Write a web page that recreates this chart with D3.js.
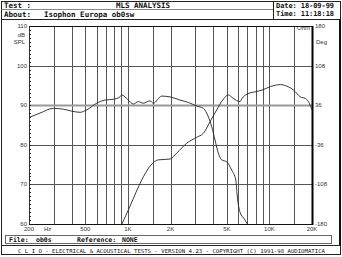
<!DOCTYPE html>
<html>
<head>
<meta charset="utf-8">
<script src="https://cdn.jsdelivr.net/npm/d3@7"></script>
<style>
  body { margin: 0; background: #fff; }
  svg { display: block; }
  .mono { font-family: "DejaVu Sans Mono", monospace; font-weight: bold; fill: #111; }
  .tick-lab { font-family: "Liberation Sans", sans-serif; font-size: 6px; fill: #333; }
</style>
</head>
<body>
<div id="chart"></div>
<script>
// woofer (low pass) response, Hz / dB SPL
var freqA = [200, 239, 297, 349, 401, 459, 511, 602, 689, 789, 879, 904, 1000, 1092, 1184, 1284, 1432, 1512, 1733, 1985, 2334, 2672, 3062, 3412, 3700, 3910, 4126, 4355, 4600, 4992, 5414, 5790, 5900, 6068, 6226, 6576, 7000];
var dbA = [86.9, 88.0, 89.2, 89.0, 88.5, 88.2, 88.8, 90.5, 91.3, 91.5, 92.1, 92.6, 91.4, 90.3, 90.9, 90.5, 91.1, 90.5, 92.3, 92.1, 91.3, 90.7, 89.8, 89.2, 87.1, 84.6, 81.2, 77.9, 76.2, 75.7, 73.6, 71.1, 67.8, 64.3, 62.8, 61.5, 60.0];
// tweeter (high pass) response
var freqB = [908, 1035, 1252, 1432, 1640, 1985, 2212, 2604, 3062, 3412, 3802, 4240, 4722, 5124, 5560, 6196, 6400, 6944, 7944, 8865, 10150, 11940, 13310, 14850, 16530, 17940, 19140, 20000];
var dbB = [60.0, 64.5, 71.1, 74.6, 76.2, 76.4, 77.9, 80.4, 81.9, 82.9, 85.8, 88.8, 91.5, 92.6, 91.7, 90.9, 91.7, 92.8, 93.4, 93.8, 94.7, 95.2, 94.8, 93.8, 92.1, 91.7, 90.5, 88.8];

var dbTicks = [60, 70, 80, 90, 100, 110];
var degTicks = [-180, -108, -36, 36, 108, 180];
var gridFreqs = [300, 400, 500, 600, 700, 800, 900, 1000, 1500, 2000, 3000, 4000, 5000, 6000, 7000, 8000, 9000, 10000, 15000];
var freqLabels = [[200, "200"], [500, "500"], [1000, "1K"], [2000, "2K"], [5000, "5K"], [10000, "10K"], [20000, "20K"]];

var width = 342, height = 257;
var pLeft = 29, pRight = 312, pTop = 26, pBottom = 224;

var svg = d3.select("#chart").append("svg")
  .attr("width", width)
  .attr("height", height);

var x = d3.scaleLog().domain([200, 20000]).range([pLeft, pRight]);
var y = d3.scaleLinear().domain([60, 110]).range([pBottom, pTop]);
var yDeg = d3.scaleLinear().domain([-180, 180]).range([pBottom, pTop]);

// header
svg.append("rect").attr("x", 1.5).attr("y", 1.5).attr("width", 339).attr("height", 18)
  .attr("fill", "none").attr("stroke", "#222").attr("stroke-width", 1);
svg.append("line").attr("x1", 1.5).attr("x2", 273.5).attr("y1", 9.5).attr("y2", 9.5)
  .attr("stroke", "#888");
svg.append("line").attr("x1", 273.5).attr("x2", 273.5).attr("y1", 1.5).attr("y2", 19.5)
  .attr("stroke", "#222");
svg.append("text").attr("class", "mono").attr("x", 4).attr("y", 8).style("font-size", "7.5px").text("Test :");
svg.append("text").attr("class", "mono").attr("x", 4).attr("y", 17).style("font-size", "7.5px").text("About:");
svg.append("text").attr("class", "mono").attr("x", 44).attr("y", 17).style("font-size", "7.5px").text("Isophon Europa ob0sw");
svg.append("text").attr("class", "mono").attr("x", 143).attr("y", 8).attr("text-anchor", "middle")
  .style("font-size", "7.5px").text("MLS ANALYSIS");
svg.append("text").attr("class", "mono").attr("x", 276).attr("y", 8).style("font-size", "7px")
  .attr("textLength", 58).text("Date: 18-09-99");
svg.append("text").attr("class", "mono").attr("x", 276).attr("y", 16).style("font-size", "7px")
  .attr("textLength", 58).text("Time: 11:18:18");

// main frame
svg.append("line").attr("x1", 1.5).attr("x2", 1.5).attr("y1", 19.5).attr("y2", 245.5).attr("stroke", "#222");
svg.append("line").attr("x1", 340).attr("x2", 340).attr("y1", 19).attr("y2", 246).attr("stroke", "#111").attr("stroke-width", 2);

// grid
var grid = svg.append("g");
grid.selectAll(".vg").data(gridFreqs).enter().append("line")
  .attr("x1", d => Math.round(x(d)) + 0.5).attr("x2", d => Math.round(x(d)) + 0.5)
  .attr("y1", pTop).attr("y2", pBottom)
  .attr("stroke", "#555").attr("stroke-width", 1);
grid.selectAll(".hg").data(dbTicks.slice(1, -1)).enter().append("line")
  .attr("x1", pLeft).attr("x2", pRight)
  .attr("y1", d => Math.round(y(d)) + 0.5).attr("y2", d => Math.round(y(d)) + 0.5)
  .attr("stroke", d => d == 90 ? "#999" : "#555")
  .attr("stroke-width", d => d == 90 ? 2 : 1);

// plot border
svg.append("line").attr("x1", pLeft).attr("x2", pRight).attr("y1", pTop + 0.5).attr("y2", pTop + 0.5).attr("stroke", "#111");
svg.append("line").attr("x1", pLeft).attr("x2", pRight + 1).attr("y1", pBottom + 0.5).attr("y2", pBottom + 0.5).attr("stroke", "#111");
svg.append("line").attr("x1", pLeft + 0.5).attr("x2", pLeft + 0.5).attr("y1", pTop).attr("y2", pBottom).attr("stroke", "#333");
svg.append("line").attr("x1", pRight + 0.5).attr("x2", pRight + 0.5).attr("y1", pTop).attr("y2", pBottom + 1)
  .attr("stroke", "#000").attr("stroke-width", 2);

// minor ticks on the dB axis
svg.append("g").selectAll("line").data(d3.range(60, 111, 1)).enter().append("line")
  .attr("x1", pLeft).attr("x2", pLeft + 2)
  .attr("y1", d => Math.round(y(d)) + 0.5).attr("y2", d => Math.round(y(d)) + 0.5)
  .attr("stroke", "#222");

// left labels
svg.append("g").selectAll("text").data(dbTicks).enter().append("text")
  .attr("class", "tick-lab").attr("x", pLeft - 2).attr("y", d => y(d) + 2)
  .attr("text-anchor", "end").text(d => d);
svg.append("text").attr("class", "tick-lab").attr("x", pLeft - 4).attr("y", 37).attr("text-anchor", "end").text("dB");
svg.append("text").attr("class", "tick-lab").attr("x", pLeft - 4).attr("y", 44).attr("text-anchor", "end").text("SPL");

// right labels
svg.append("g").selectAll("text").data(degTicks).enter().append("text")
  .attr("class", "tick-lab").attr("x", pRight + 3).attr("y", d => yDeg(d) + 2)
  .text(d => d);
svg.append("text").attr("class", "tick-lab").attr("x", pRight + 4).attr("y", 44).text("Deg");
svg.append("text").attr("class", "tick-lab").attr("x", pRight - 2).attr("y", 30).attr("text-anchor", "end").text("Ohm");

// frequency labels
svg.append("g").selectAll("text").data(freqLabels).enter().append("text")
  .attr("class", "tick-lab").attr("x", d => x(d[0])).attr("y", 231)
  .attr("text-anchor", "middle").text(d => d[1]);
svg.append("text").attr("class", "tick-lab").attr("x", 44).attr("y", 231).text("Hz");

// curves
svg.append("clipPath").attr("id", "plotclip").append("rect")
  .attr("x", pLeft).attr("y", pTop).attr("width", pRight - pLeft).attr("height", pBottom - pTop);

var line = d3.line()
  .x(d => x(d[0]))
  .y(d => y(d[1]))
  .curve(d3.curveMonotoneX);

[[freqA, dbA], [freqB, dbB]].forEach(function (s) {
  svg.append("path")
    .datum(d3.zip(s[0], s[1]))
    .attr("clip-path", "url(#plotclip)")
    .attr("fill", "none")
    .attr("stroke", "#222")
    .attr("stroke-width", 0.9)
    .attr("d", line);
});

// footer
svg.append("rect").attr("x", 5.5).attr("y", 235.5).attr("width", 326).attr("height", 8)
  .attr("fill", "none").attr("stroke", "#666");
svg.append("text").attr("class", "mono").attr("x", 9).attr("y", 242).style("font-size", "6.5px").text("File:");
svg.append("text").attr("class", "mono").attr("x", 36).attr("y", 242).style("font-size", "6.5px").text("ob0s");
svg.append("text").attr("class", "mono").attr("x", 77).attr("y", 242).style("font-size", "6.5px").text("Reference:");
svg.append("text").attr("class", "mono").attr("x", 122).attr("y", 242).style("font-size", "6.5px").text("NONE");

svg.append("rect").attr("x", 1.5).attr("y", 245.5).attr("width", 339).attr("height", 9)
  .attr("fill", "none").attr("stroke", "#222");
svg.append("text").attr("class", "mono").attr("x", 18).attr("y", 252.5)
  .style("font-size", "5.5px").style("font-weight", "normal")
  .attr("textLength", 307).attr("lengthAdjust", "spacingAndGlyphs")
  .text("C L I O  -  ELECTRICAL & ACOUSTICAL TESTS  -  VERSION 4.23  -  COPYRIGHT (C) 1991-98 AUDIOMATICA");
</script>
</body>
</html>
